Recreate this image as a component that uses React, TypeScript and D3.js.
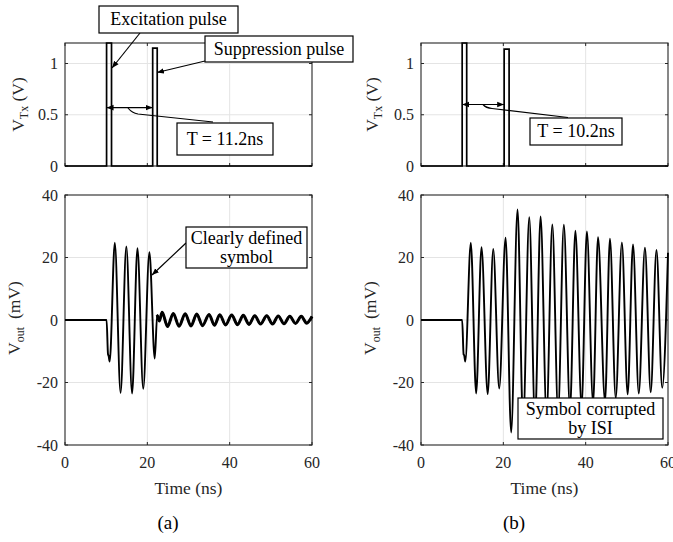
import React from 'react';
import * as d3 from 'd3';

// ---------- data ----------
const timeTicks = [0, 20, 40, 60];
const timeTickLabels = ['0', '20', '40', '60'];
const txTicks = [0, 0.5, 1];
const txTickLabels = ['0', '0.5', '1'];
const voutTicks = [-40, -20, 0, 20, 40];
const voutTickLabels = ['-40', '-20', '0', '20', '40'];

// (a) transmitted pulses, T = 11.2 ns
const txA_t = [0, 10.1, 10.1, 11.3, 11.3, 21.3, 21.3, 22.4, 22.4, 60];
const txA_v = [0, 0, 1.2, 1.2, 0, 0, 1.15, 1.15, 0, 0];
// (b) transmitted pulses, T = 10.2 ns
const txB_t = [0, 10.0, 10.0, 11.1, 11.1, 20.2, 20.2, 21.4, 21.4, 60];
const txB_v = [0, 0, 1.2, 1.2, 0, 0, 1.14, 1.14, 0, 0];

// (a) received waveform (extrema)
const voutA_t = [0, 10.1, 10.45, 10.6, 10.85, 12.1, 13.5, 14.9, 16.3, 17.6, 19.0, 20.5, 21.8, 22.4, 22.9,
  23.6, 24.9, 26.3, 27.7, 29.2, 30.6, 32.0, 33.4, 35.0, 36.3, 37.6, 39.0, 40.5, 41.9, 43.3, 44.7,
  46.1, 47.5, 49.0, 50.4, 51.8, 53.2, 54.6, 56.0, 57.4, 58.7, 60];
const voutA_v = [0, 0, -11, -11.5, -13.3, 24.7, -23.3, 23.5, -23.5, 23, -22, 21.7, -12.3, 1.6, -0.3,
  2.5, -2.1, 2.1, -2.0, 2.0, -1.9, 1.9, -1.8, 1.8, -1.7, 1.7, -1.6, 1.6, -1.5, 1.5, -1.4,
  1.4, -1.3, 1.4, -1.3, 1.3, -1.2, 1.2, -1.1, 1.2, -1.0, 1.1];

// (b) received waveform
const voutB_t = [0, 10.0, 10.35, 10.5, 10.75, 12.1, 13.4, 14.7, 16.2, 17.55, 19.0, 20.55, 21.9, 23.45,
  24.8, 26.3, 27.7, 29.05, 30.5, 31.9, 33.3, 34.7, 36.2, 37.5, 39.0, 40.3, 41.8, 43.0, 44.7, 45.9,
  47.3, 48.8, 50.2, 51.5, 52.9, 54.4, 55.8, 57.2, 58.6, 60];
const voutB_v = [0, 0, -11, -11.3, -13.3, 24.7, -23.5, 23.3, -23.7, 22.7, -21.9, 26.3, -36, 35.4,
  -33, 32.9, -32, 33.1, -30.5, 30.6, -29.5, 30.5, -28.5, 28.6, -27.5, 28.3, -26.5, 26.5, -26, 26,
  -25, 24.8, -23.8, 24.2, -23.5, 23.1, -23.1, 22.4, -21.7, 21.5];

// ---------- layout ----------
const W = 673;
const H = 542;
const PW = 247;
const LEFTS = [65, 421];
const TOP = { y0: 43, y1: 166 };
const BOT = { y0: 195, y1: 445 };
const FONT = '"Liberation Serif", "Times New Roman", serif';
const AX = '#262626';
const GRID = '#e4e4e4';

type Pt = [number, number];
const zip = (t: number[], v: number[]): Pt[] => t.map((d, i) => [d, v[i]]);

function Axes({ left, y0, y1, yDomain, yTicks, yLabels, xLabels, children }: any) {
  const x = d3.scaleLinear().domain([0, 60]).range([left, left + PW]);
  const y = d3.scaleLinear().domain(yDomain).range([y1, y0]);
  const right = left + PW;
  const tl = 3;
  return (
    <g>
      {timeTicks.filter((t) => t > 0 && t < 60).map((t) => (
        <line key={'gx' + t} x1={x(t)} x2={x(t)} y1={y0} y2={y1} stroke={GRID} strokeWidth={1} />
      ))}
      {yTicks.filter((v: number) => y(v) > y0 + 1 && y(v) < y1 - 1).map((v: number) => (
        <line key={'gy' + v} x1={left} x2={right} y1={y(v)} y2={y(v)} stroke={GRID} strokeWidth={1} />
      ))}
      <rect x={left} y={y0} width={PW} height={y1 - y0} fill="none" stroke={AX} strokeWidth={1.1} />
      {timeTicks.map((t) => (
        <g key={'tx' + t}>
          <line x1={x(t)} x2={x(t)} y1={y1} y2={y1 - tl} stroke={AX} />
          <line x1={x(t)} x2={x(t)} y1={y0} y2={y0 + tl} stroke={AX} />
        </g>
      ))}
      {yTicks.map((v: number) => (
        <g key={'ty' + v}>
          <line x1={left} x2={left + tl} y1={y(v)} y2={y(v)} stroke={AX} />
          <line x1={right} x2={right - tl} y1={y(v)} y2={y(v)} stroke={AX} />
        </g>
      ))}
      {yTicks.map((v: number, i: number) => (
        <text key={'ly' + v} x={left - 7} y={y(v) + 5.5} textAnchor="end" fontSize={16} fill={AX} fontFamily={FONT}>
          {yLabels[i]}
        </text>
      ))}
      {xLabels &&
        timeTicks.map((t, i) => (
          <text key={'lx' + t} x={x(t)} y={y1 + 23} textAnchor="middle" fontSize={16} fill={AX} fontFamily={FONT}>
            {timeTickLabels[i]}
          </text>
        ))}
      {children(x, y)}
    </g>
  );
}

function Box({ x, y, w, h, lines, fs = 18 }: any) {
  const lh = fs * 1.05;
  const cy = y + h / 2 - ((lines.length - 1) * lh) / 2;
  return (
    <g>
      <rect x={x} y={y} width={w} height={h} fill="#fff" stroke="#000" strokeWidth={1.2} />
      {lines.map((s: string, i: number) => (
        <text key={i} x={x + w / 2} y={cy + i * lh + fs * 0.33} textAnchor="middle" fontSize={fs} fontFamily={FONT} fill="#000">
          {s}
        </text>
      ))}
    </g>
  );
}

export default function App() {
  const wave = (x: any, y: any) => d3.line<Pt>().x((d) => x(d[0])).y((d) => y(d[1])).curve(d3.curveMonotoneX);
  const step = (x: any, y: any) => d3.line<Pt>().x((d) => x(d[0])).y((d) => y(d[1])).curve(d3.curveLinear);
  const txA = zip(txA_t, txA_v);
  const txB = zip(txB_t, txB_v);
  const vA = zip(voutA_t, voutA_v);
  const vB = zip(voutB_t, voutB_v);
  const vATail = vA.filter((d) => d[0] >= 22.4);

  return (
    <svg width={W} height={H} style={{ position: 'absolute', left: 0, top: 0, background: '#fff' }} fontFamily={FONT}>
      <defs>
        <marker id="ah" viewBox="0 0 10 10" refX="10" refY="5" markerWidth="7" markerHeight="7" markerUnits="userSpaceOnUse" orient="auto-start-reverse">
          <path d="M0,1 L10,5 L0,9 z" fill="#000" />
        </marker>
      </defs>

      {/* ---- top left ---- */}
      <Axes left={LEFTS[0]} y0={TOP.y0} y1={TOP.y1} yDomain={[0, 1.2]} yTicks={txTicks} yLabels={txTickLabels} xLabels={false}>
        {(x: any, y: any) => (
          <g>
            <path d={step(x, y)(txA) as string} fill="none" stroke="#000" strokeWidth={1.7} />
            <line x1={x(txA_t[1])} x2={x(txA_t[5])} y1={y(0.57)} y2={y(0.57)} stroke="#000" strokeWidth={1.2}
              markerStart="url(#ah)" markerEnd="url(#ah)" />
          </g>
        )}
      </Axes>
      {/* ---- top right ---- */}
      <Axes left={LEFTS[1]} y0={TOP.y0} y1={TOP.y1} yDomain={[0, 1.2]} yTicks={txTicks} yLabels={txTickLabels} xLabels={false}>
        {(x: any, y: any) => (
          <g>
            <path d={step(x, y)(txB) as string} fill="none" stroke="#000" strokeWidth={1.7} />
            <line x1={x(txB_t[1])} x2={x(txB_t[5])} y1={y(0.6)} y2={y(0.6)} stroke="#000" strokeWidth={1.2}
              markerStart="url(#ah)" markerEnd="url(#ah)" />
          </g>
        )}
      </Axes>
      {/* ---- bottom left ---- */}
      <Axes left={LEFTS[0]} y0={BOT.y0} y1={BOT.y1} yDomain={[-40, 40]} yTicks={voutTicks} yLabels={voutTickLabels} xLabels={true}>
        {(x: any, y: any) => (
          <g>
            <path d={wave(x, y)(vA) as string} fill="none" stroke="#000" strokeWidth={1.9} strokeLinejoin="round" />
            <path d={wave(x, y)(vATail) as string} fill="none" stroke="#000" strokeWidth={3} strokeLinejoin="round" />
          </g>
        )}
      </Axes>
      {/* ---- bottom right ---- */}
      <Axes left={LEFTS[1]} y0={BOT.y0} y1={BOT.y1} yDomain={[-40, 40]} yTicks={voutTicks} yLabels={voutTickLabels} xLabels={true}>
        {(x: any, y: any) => (
          <path d={wave(x, y)(vB) as string} fill="none" stroke="#000" strokeWidth={1.9} strokeLinejoin="round" />
        )}
      </Axes>

      {/* ---- annotations ---- */}
      <path d="M128,108 Q132,113 138,114 L213,122" fill="none" stroke="#000" strokeWidth={1.2} />
      <path d="M483,104.5 Q486,108 492,108.5 L568,117.5" fill="none" stroke="#000" strokeWidth={1.2} />
      <line x1={140} y1={33} x2={112} y2={68} stroke="#000" strokeWidth={1.2} markerEnd="url(#ah)" />
      <line x1={205} y1={61} x2={157} y2={72.5} stroke="#000" strokeWidth={1.2} markerEnd="url(#ah)" />
      <line x1={186} y1={243} x2={152} y2={275} stroke="#000" strokeWidth={1.2} markerEnd="url(#ah)" />

      <Box x={99} y={6} w={139} h={27} lines={['Excitation pulse']} />
      <Box x={205} y={36} w={148} h={26} lines={['Suppression pulse']} />
      <Box x={177} y={123} w={96} h={32} lines={['T = 11.2ns']} />
      <Box x={530} y={118} w={92} h={27} lines={['T = 10.2ns']} />
      <Box x={186} y={227} w={121} h={41} lines={['Clearly defined', 'symbol']} />
      <Box x={518} y={398} w={145} h={41} lines={['Symbol corrupted', 'by ISI']} />

      {/* ---- axis labels ---- */}
      {[{ x: 24, cy: 104.5 }, { x: 378, cy: 104.5 }].map((p, i) => (
        <text key={'vt' + i} transform={`translate(${p.x},${p.cy}) rotate(-90)`} textAnchor="middle" fontSize={17.5} fill={AX}>
          V<tspan fontSize={12} dy={4}>Tx</tspan><tspan dy={-4}> (V)</tspan>
        </text>
      ))}
      {[{ x: 20, cy: 318 }, { x: 376, cy: 318 }].map((p, i) => (
        <text key={'vo' + i} transform={`translate(${p.x},${p.cy}) rotate(-90)`} textAnchor="middle" fontSize={17.5} fill={AX}>
          V<tspan fontSize={12} dy={4}>out</tspan><tspan dy={-4} dx={8}>(mV)</tspan>
        </text>
      ))}
      {LEFTS.map((l, i) => (
        <text key={'xl' + i} x={l + PW / 2} y={494} textAnchor="middle" fontSize={17.5} fill={AX}>
          Time (ns)
        </text>
      ))}
      <text x={168} y={529} textAnchor="middle" fontSize={19} fill="#000">(a)</text>
      <text x={514} y={529} textAnchor="middle" fontSize={19} fill="#000">(b)</text>
    </svg>
  );
}
